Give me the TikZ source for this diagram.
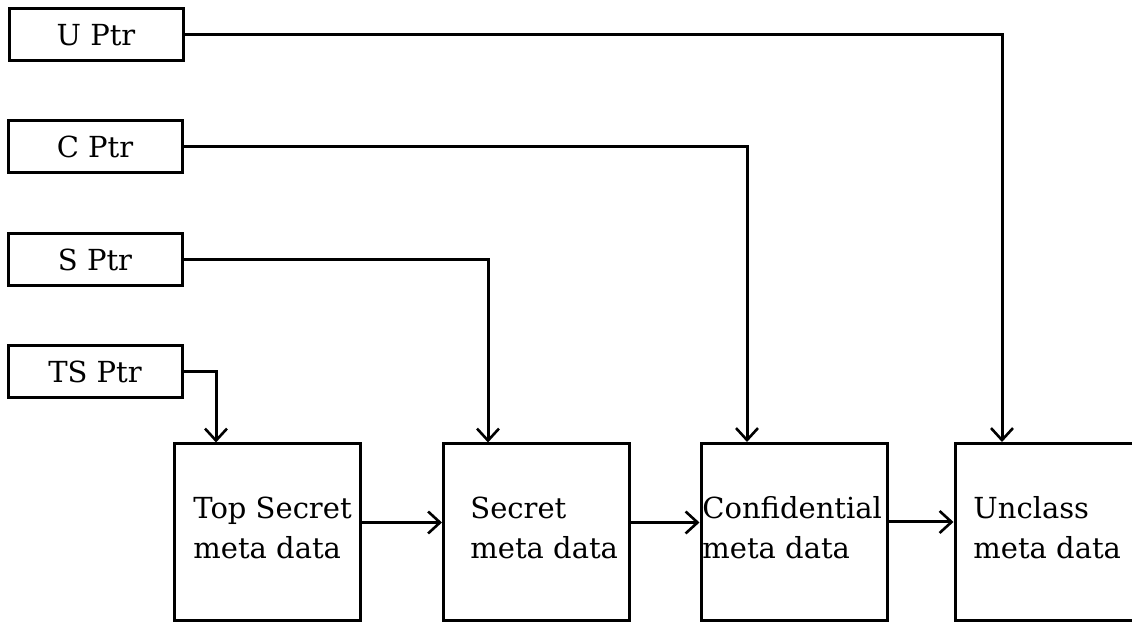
\documentclass[tikz,border=0pt]{standalone}
\usepackage{fontspec}
\setmainfont{DejaVu Serif}
\usetikzlibrary{arrows.meta}
\begin{document}
\begin{tikzpicture}[x=0.5pt,y=-0.5pt,
  ptrbox/.style={draw,line width=1.5pt,minimum width=87pt,minimum height=26pt,inner sep=0pt,font=\fontsize{14.5}{17}\selectfont},
  metabox/.style={draw,line width=1.5pt,minimum width=93pt,minimum height=88.5pt,inner sep=0pt},
  metatext/.style={anchor=west,align=left,inner sep=0pt,font=\fontsize{14.5}{20}\selectfont},
  arr/.style={line width=1.5pt,-{Straight Barb[length=6pt,width=11pt,line width=1.3pt]}},
  conn/.style={line width=1.5pt}]
\useasboundingbox (0,0) rectangle (1132,625);
% pointer boxes
\node[ptrbox] (uptr)  at (96,35)  {U Ptr};
\node[ptrbox] (cptr)  at (95,147) {C Ptr};
\node[ptrbox] (sptr)  at (95,260) {S Ptr};
\node[ptrbox] (tsptr) at (95,372) {TS Ptr};
% meta data boxes
\node[metabox] (ts)  at (267,532.5) {};
\node[metabox] (sec) at (536.5,532.5) {};
\node[metabox] (con) at (794,532) {};
\node[metabox] (unc) at (1048,532) {};
% texts
\node[metatext] (tstxt)  at (193,528) {Top Secret\\meta data};
\node[metatext] (sectxt) at (470,528) {Secret\\meta data};
\node[metatext] (contxt) at (702,528) {Confidential\\meta data};
\node[metatext] (unctxt) at (973,528) {Unclass\\meta data};
% pointer connectors
\draw[arr] (uptr.east) -| (1002,0 |- unc.north) coordinate (uin);
\draw[arr] (cptr.east) -| (747,0 |- con.north) coordinate (cin);
\draw[arr] (sptr.east) -| (488,0 |- sec.north) coordinate (sin);
\draw[arr] (tsptr.east) -| (216,0 |- ts.north) coordinate (tin);
% chain connectors
\draw[arr] ([yshift=5pt]ts.east) -- ([yshift=5pt]ts.east -| sec.west);
\draw[arr] ([yshift=5pt]sec.east) -- ([yshift=5pt]sec.east -| con.west);
\draw[arr] ([yshift=5pt]con.east) -- ([yshift=5pt]con.east -| unc.west);
\end{tikzpicture}
\end{document}
